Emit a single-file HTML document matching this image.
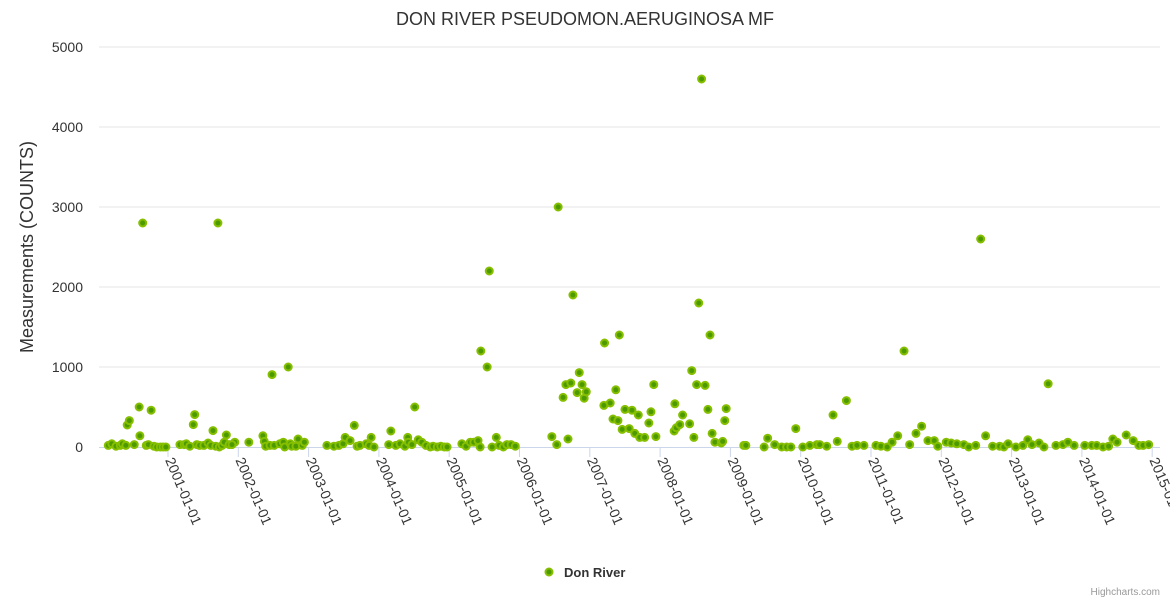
<!DOCTYPE html>
<html><head><meta charset="utf-8"><style>
html,body{margin:0;padding:0;background:#fff;}
svg{display:block;font-family:"Liberation Sans","DejaVu Sans",sans-serif;}
</style></head><body>
<svg id="chart" width="1170" height="600">
<rect width="1170" height="600" fill="#fff"/>
<text x="585" y="25" text-anchor="middle" font-size="18" fill="#333">DON RIVER PSEUDOMON.AERUGINOSA MF</text>
<text transform="translate(33,247) rotate(-90)" text-anchor="middle" font-size="18" fill="#333">Measurements (COUNTS)</text>
<g id="grid"></g><g id="yticks"></g><g id="xaxis"></g><g id="points"></g>
<g>
<circle cx="549" cy="572" r="3.5" fill="#4c9a00" stroke="#86bf00" stroke-width="2"/>
<text x="564" y="577" font-size="13" font-weight="bold" fill="#333">Don River</text>
</g>
<text x="1160" y="595" text-anchor="end" font-size="10" fill="#999">Highcharts.com</text>
</svg>
<script>
const yTicks=[0,1000,2000,3000,4000,5000];
const xTickYears=[2001,2002,2003,2004,2005,2006,2007,2008,2009,2010,2011,2012,2013,2014,2015];
const dates=[2000.15,2000.20,2000.26,2000.32,2000.35,2000.40,2000.52,2000.42,2000.45,2000.59,2000.60,2000.64,2000.69,2000.72,2000.76,2000.80,2000.84,2000.89,2000.93,2000.97,
2001.17,2001.23,2001.26,2001.31,2001.41,2001.45,2001.51,2001.57,2001.61,2001.68,2001.36,2001.38,2001.64,2001.71,2001.73,2001.77,2001.80,2001.83,2001.87,2001.95,2001.91,
2002.15,2002.35,2002.37,2002.39,2002.45,2002.51,2002.59,2002.64,2002.66,2002.74,2002.76,2002.82,2002.85,2002.91,2002.94,2002.48,2002.71,
2003.26,2003.36,2003.43,2003.49,2003.52,2003.59,2003.65,2003.69,2003.73,2003.82,2003.86,2003.89,2003.93,
2004.14,2004.17,2004.24,2004.30,2004.37,2004.41,2004.42,2004.47,2004.51,2004.56,2004.61,2004.67,2004.73,2004.77,2004.83,2004.88,2004.93,2004.97,
2005.18,2005.24,2005.30,2005.35,2005.41,2005.44,2005.45,2005.54,2005.57,2005.61,2005.67,2005.71,2005.77,2005.82,2005.88,2005.94,
2006.46,2006.53,2006.55,2006.69,2006.62,2006.66,2006.73,2006.76,2006.85,2006.82,2006.89,2006.92,2006.95,
2007.20,2007.21,2007.29,2007.37,2007.33,2007.40,2007.42,2007.46,2007.56,2007.50,2007.60,2007.69,2007.64,2007.71,2007.78,2007.84,2007.87,2007.91,2007.94,
2008.20,2008.23,2008.28,2008.21,2008.32,2008.42,2008.48,2008.45,2008.52,2008.55,2008.59,2008.64,2008.68,2008.71,2008.74,2008.78,2008.87,2008.89,2008.92,2008.94,
2009.19,2009.22,2009.48,2009.53,2009.63,2009.73,2009.80,2009.86,2009.93,
2010.03,2010.13,2010.23,2010.27,2010.37,2010.46,2010.52,2010.65,2010.73,2010.80,2010.90,
2011.07,2011.14,2011.23,2011.30,2011.38,2011.47,2011.55,2011.64,2011.72,2011.81,2011.90,2011.95,
2012.07,2012.14,2012.22,2012.32,2012.39,2012.49,2012.56,2012.63,2012.73,2012.83,2012.89,2012.95,
2013.06,2013.16,2013.23,2013.29,2013.39,2013.46,2013.52,2013.63,2013.73,2013.80,2013.89,
2014.04,2014.14,2014.21,2014.30,2014.38,2014.44,2014.50,2014.63,2014.73,2014.81,2014.87,2014.95];
const counts=[20,40,10,20,40,20,30,275,330,500,140,2800,20,30,460,10,0,0,0,0,
30,30,40,10,30,20,20,50,20,10,280,405,205,2800,0,20,60,150,30,60,30,
60,140,70,10,20,20,40,60,0,40,10,10,100,20,60,905,1000,
20,10,20,40,120,80,270,10,20,40,20,120,0,
30,200,20,40,10,120,60,30,500,90,60,20,0,10,0,10,0,0,
40,10,60,60,80,0,1200,1000,2200,0,120,20,0,30,30,10,
130,30,3000,100,620,780,800,1900,930,680,780,610,690,
520,1300,550,715,350,330,1400,220,230,470,460,400,170,120,120,300,440,780,130,
200,240,280,540,400,290,120,955,780,1800,4600,770,470,1400,170,60,50,70,330,480,
20,20,0,110,30,0,0,0,230,
0,20,30,30,10,400,70,580,10,20,20,
20,10,0,60,140,1200,30,170,260,80,80,10,
60,50,40,30,0,20,2600,140,10,10,0,40,
0,20,90,30,50,0,790,20,30,60,20,
20,20,20,0,10,100,60,150,80,20,20,30];
const NS='http://www.w3.org/2000/svg';
function xPos(yr){return 97.7+(yr-2000)*70.3;}
function yPos(v){return 447-v*0.08;}
const grid=document.getElementById('grid'),yt=document.getElementById('yticks'),xa=document.getElementById('xaxis'),pts=document.getElementById('points');
yTicks.forEach(v=>{
  if(v>0){const l=document.createElementNS(NS,'line');
  l.setAttribute('x1',99);l.setAttribute('x2',1160);l.setAttribute('y1',yPos(v));l.setAttribute('y2',yPos(v));
  l.setAttribute('stroke','#e6e6e6');
  
  
  grid.appendChild(l);}
  const t=document.createElementNS(NS,'text');
  t.setAttribute('x',83);t.setAttribute('y',yPos(v)+5);t.setAttribute('text-anchor','end');
  t.setAttribute('font-size','14');t.setAttribute('fill','#333');t.textContent=v;
  
  
  yt.appendChild(t);
});
const ax=document.createElementNS(NS,'line');
ax.setAttribute('x1',99);ax.setAttribute('x2',1160);ax.setAttribute('y1',447.5);ax.setAttribute('y2',447.5);ax.setAttribute('stroke','#ccd6eb');


xa.appendChild(ax);
xTickYears.forEach(y=>{
  const x=xPos(y);
  const tk=document.createElementNS(NS,'line');
  tk.setAttribute('x1',x);tk.setAttribute('x2',x);tk.setAttribute('y1',447);tk.setAttribute('y2',457);tk.setAttribute('stroke','#ccd6eb');
  
  
  xa.appendChild(tk);
  const t=document.createElementNS(NS,'text');
  t.setAttribute('transform','translate('+(x-3)+',460) rotate(67)');
  t.setAttribute('font-size','14');t.setAttribute('fill','#333');t.textContent=y+'-01-01';
  
  
  xa.appendChild(t);
});
dates.forEach((d,i)=>{
  const c=document.createElementNS(NS,'circle');
  c.setAttribute('cx',xPos(d));c.setAttribute('cy',yPos(counts[i]));c.setAttribute('r',3.5);
  c.setAttribute('fill','#4c9a00');c.setAttribute('stroke','#86bf00');c.setAttribute('stroke-width','2');
  
  
  pts.appendChild(c);
});
</script>
</body></html>
